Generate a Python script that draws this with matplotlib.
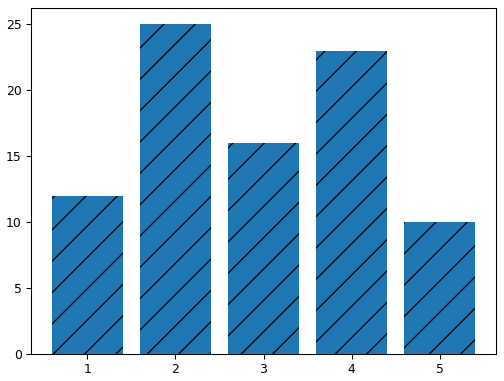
import matplotlib
matplotlib.use('Agg')
import matplotlib.pyplot as plt

# 棒グラフのデータ
categories = [1, 2, 3, 4, 5]
values = [12, 25, 16, 23, 10]

DPI = 94
fig = plt.figure(figsize=(504 / DPI, 381 / DPI), dpi=DPI)
ax = fig.add_axes([31 / 504, 1 - 354 / 381, (496 - 31) / 504, (354 - 8) / 381])

ax.bar(categories, values, hatch='/')
ax.tick_params(labelsize=9.5)

fig.savefig('out.png', dpi=DPI)
